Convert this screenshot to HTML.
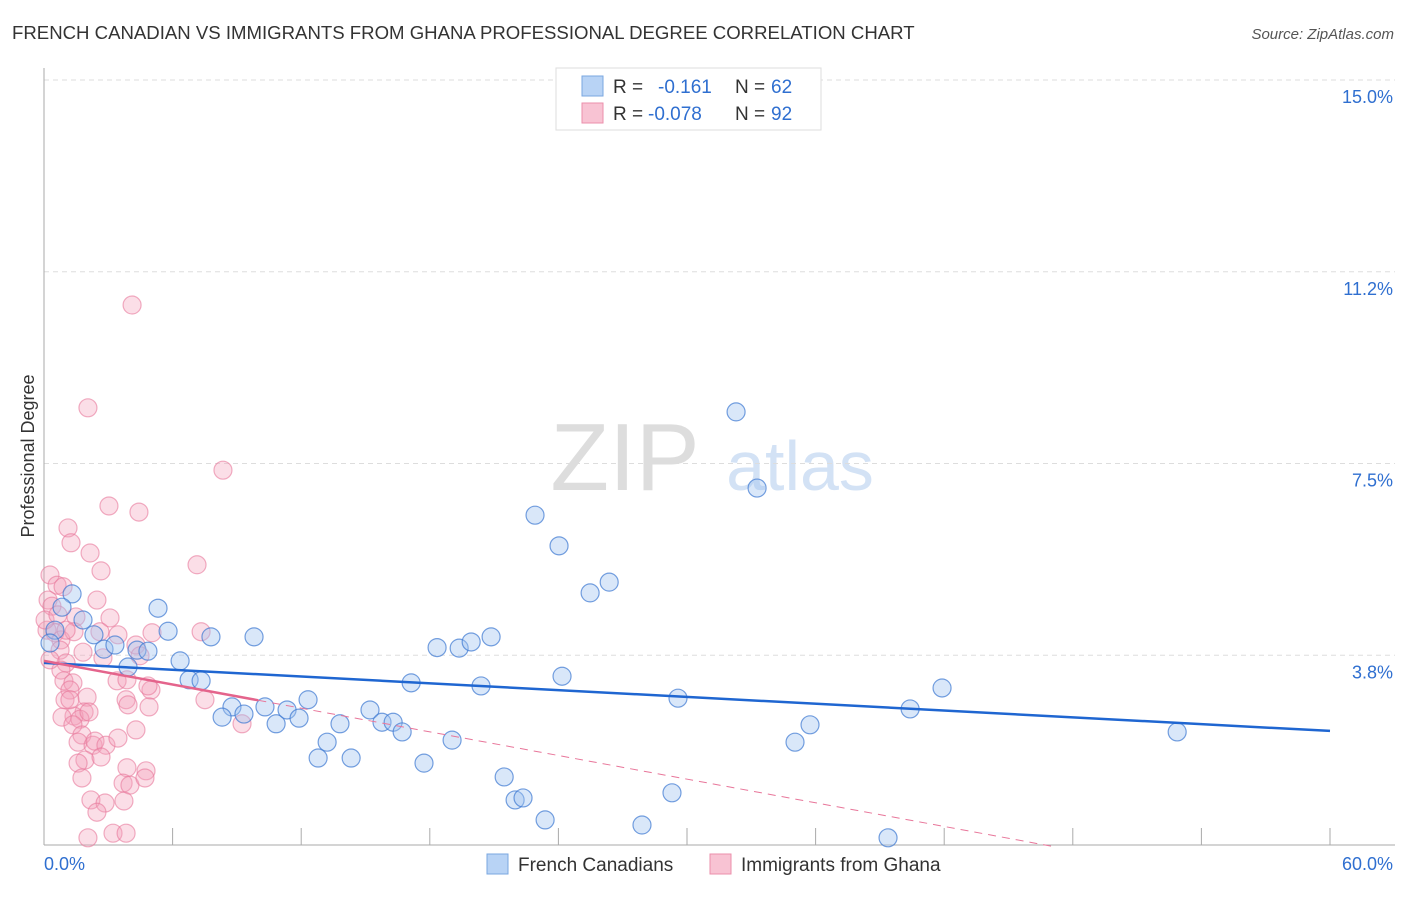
<!DOCTYPE html>
<html><head><meta charset="utf-8"><style>
body{margin:0;background:#fff;font-family:"Liberation Sans",sans-serif;}
svg text{font-family:"Liberation Sans",sans-serif;}
</style></head><body>
<svg id="c" width="1406" height="892" xmlns="http://www.w3.org/2000/svg">
<text x="12" y="39" font-size="18.6" fill="#333">FRENCH CANADIAN VS IMMIGRANTS FROM GHANA PROFESSIONAL DEGREE CORRELATION CHART</text>
<text x="1394" y="39" font-size="15" fill="#555" font-style="italic" text-anchor="end">Source: ZipAtlas.com</text>
<text x="34" y="456" font-size="18" fill="#333" transform="rotate(-90 34 456)" text-anchor="middle">Professional Degree</text>
<g><text x="625" y="490" font-size="96" fill="#ddd" font-family="Liberation Serif" text-anchor="middle">ZIP</text><text x="800" y="490" font-size="70" fill="#d3e2f5" text-anchor="middle">atlas</text></g>
<g id="grid"></g><g id="axes"></g><g id="pts"></g><g id="trend"></g>
<g>
<rect x="556" y="68" width="265" height="62" fill="#fff" stroke="#ddd"/>
<rect x="582" y="76" width="21" height="20" fill="#b8d3f5" stroke="#7aa7e0"/>
<rect x="582" y="103" width="21" height="20" fill="#f8c3d3" stroke="#eb8fab"/>
<text x="613" y="93" font-size="19" fill="#333">R = </text><text x="658" y="93" font-size="19" fill="#2f6fd0">-0.161</text>
<text x="735" y="93" font-size="19" fill="#333">N = </text><text x="771" y="93" font-size="19" fill="#2f6fd0">62</text>
<text x="613" y="120" font-size="19" fill="#333">R = </text><text x="648" y="120" font-size="19" fill="#2f6fd0">-0.078</text>
<text x="735" y="120" font-size="19" fill="#333">N = </text><text x="771" y="120" font-size="19" fill="#2f6fd0">92</text>
</g>
<g>
<rect x="487" y="854" width="21" height="20" fill="#b8d3f5" stroke="#7aa7e0"/>
<text x="518" y="871" font-size="19" fill="#333">French Canadians</text>
<rect x="710" y="854" width="21" height="20" fill="#f8c3d3" stroke="#eb8fab"/>
<text x="741" y="871" font-size="19" fill="#333">Immigrants from Ghana</text>
</g>
</svg>
<script>
const blueX=[32.29,33.27,22.91,24.03,25.48,26.37,18.34,19.37,19.93,20.86,17.13,20.39,24.17,29.58,41.90,40.41,35.74,35.04,52.87,5.32,5.79,7.79,9.80,6.35,6.77,7.33,8.77,8.31,9.33,10.31,10.83,11.34,11.90,12.32,13.81,13.21,12.79,14.33,15.21,15.77,16.29,16.71,19.04,17.73,21.47,21.98,22.35,23.38,29.30,27.90,39.38,2.33,2.80,3.31,3.92,4.34,4.85,1.31,1.82,0.84,0.51,0.28];
const blueY=[8.51,7.02,6.49,5.89,4.97,5.18,3.90,3.89,4.01,4.11,3.21,3.15,3.34,2.91,3.11,2.70,2.39,2.05,2.25,4.67,4.22,4.11,4.11,3.64,3.27,3.25,2.74,2.54,2.60,2.74,2.41,2.68,2.52,2.88,2.41,2.05,1.74,1.74,2.68,2.44,2.44,2.25,2.09,1.64,1.37,0.92,0.96,0.53,1.06,0.43,0.18,4.15,3.87,3.95,3.52,3.85,3.83,4.95,4.44,4.69,4.24,3.99];
const pinkX=[4.11,2.05,8.35,3.03,4.43,1.12,1.26,2.15,7.14,2.66,0.28,0.61,0.89,0.19,2.47,0.37,1.49,3.08,0.14,0.51,0.79,1.40,2.61,3.45,5.04,7.33,0.75,1.82,2.75,4.29,4.48,1.03,0.79,0.93,1.35,3.41,3.87,4.99,4.85,1.21,2.01,1.87,1.40,0.84,1.68,2.10,3.83,3.92,4.90,1.35,1.77,1.59,2.29,2.38,2.89,3.45,4.29,7.51,9.24,1.91,2.66,3.87,1.59,1.77,3.69,4.01,4.76,4.71,2.19,2.85,3.73,2.47,2.05,3.22,3.83,0.98,1.21,0.28,0.05,0.65,1.03];
const pinkY=[10.60,8.59,7.37,6.67,6.55,6.24,5.95,5.75,5.52,5.40,5.32,5.12,5.09,4.83,4.83,4.71,4.50,4.48,4.24,4.19,4.05,4.21,4.21,4.15,4.19,4.21,3.85,3.81,3.70,3.95,3.74,3.60,3.46,3.25,3.21,3.25,3.27,3.07,3.15,3.07,2.93,2.64,2.56,2.54,2.50,2.64,2.88,2.78,2.74,2.39,2.19,2.05,1.99,2.07,1.99,2.13,2.29,2.88,2.41,1.70,1.76,1.55,1.64,1.35,1.25,1.21,1.49,1.35,0.92,0.86,0.90,0.68,0.18,0.27,0.27,2.88,2.88,3.66,4.44,4.54,4.24];
const yTicks=[15,11.25,7.5,3.75];
const yTickLabels=["15.0%","11.2%","7.5%","3.8%"];
const xTicks=[0,6,12,18,24,30,36,42,48,54,60];
const blueTrend=[3.60,2.27];
const pinkTrend=[3.64,-0.0771];
const pinkSolidEnd=10;
const X0=44,X1=1330,Y0=847,PY=51.13;
const sx=v=>X0+(X1-X0)*v/60, sy=v=>Y0-v*PY;
const NS="http://www.w3.org/2000/svg";
function mk(p,t,a){const e=document.createElementNS(NS,t);for(const k in a)e.setAttribute(k,a[k]);document.getElementById(p).appendChild(e);return e;}
yTicks.forEach((t,i)=>{
 const g=mk('grid','line',{x1:44,x2:1395,y1:sy(t),y2:sy(t),stroke:'#ddd','stroke-dasharray':'5,4'});
 
 
 const l=mk('grid','text',{x:1393,y:sy(t)+23,'font-size':18,fill:'#2f6fd0','text-anchor':'end'});l.textContent=yTickLabels[i];
 
 
});
const ax=mk('axes','line',{x1:44,x2:1395,y1:845,y2:845,stroke:'#aaa'});


const ay=mk('axes','line',{x1:44,x2:44,y1:68,y2:845,stroke:'#aaa'});


xTicks.forEach(t=>{const k=mk('axes','line',{x1:sx(t),x2:sx(t),y1:828,y2:845,stroke:'#aaa'});
 
 });
const xl0=mk('axes','text',{x:44,y:870,'font-size':18,fill:'#2f6fd0'});xl0.textContent=xTicks[0].toFixed(1)+"%";


const xl1=mk('axes','text',{x:1393,y:870,'font-size':18,fill:'#2f6fd0','text-anchor':'end'});xl1.textContent=xTicks[xTicks.length-1].toFixed(1)+"%";


pinkX.forEach((v,i)=>{const c=mk('pts','circle',{cx:sx(v),cy:sy(pinkY[i]),r:9,fill:'rgba(244,160,186,0.35)',stroke:'rgba(232,120,155,0.6)','stroke-width':1.2});
 
 });
blueX.forEach((v,i)=>{const c=mk('pts','circle',{cx:sx(v),cy:sy(blueY[i]),r:9,fill:'rgba(160,196,240,0.4)',stroke:'rgba(60,120,210,0.7)','stroke-width':1.2});
 
 });
const bt=mk('trend','line',{x1:sx(0),y1:sy(blueTrend[0]),x2:sx(60),y2:sy(blueTrend[1]),stroke:'#1f66d1','stroke-width':2.5});


const pz=-pinkTrend[0]/pinkTrend[1];
const pd=mk('trend','line',{x1:sx(pinkSolidEnd),y1:sy(pinkTrend[0]+pinkTrend[1]*pinkSolidEnd),x2:sx(pz),y2:sy(0),stroke:'#e8769a','stroke-width':1,'stroke-dasharray':'8,6'});


const ps=mk('trend','line',{x1:sx(0),y1:sy(pinkTrend[0]),x2:sx(pinkSolidEnd),y2:sy(pinkTrend[0]+pinkTrend[1]*pinkSolidEnd),stroke:'#e4648c','stroke-width':2.5});


</script>
</body></html>
